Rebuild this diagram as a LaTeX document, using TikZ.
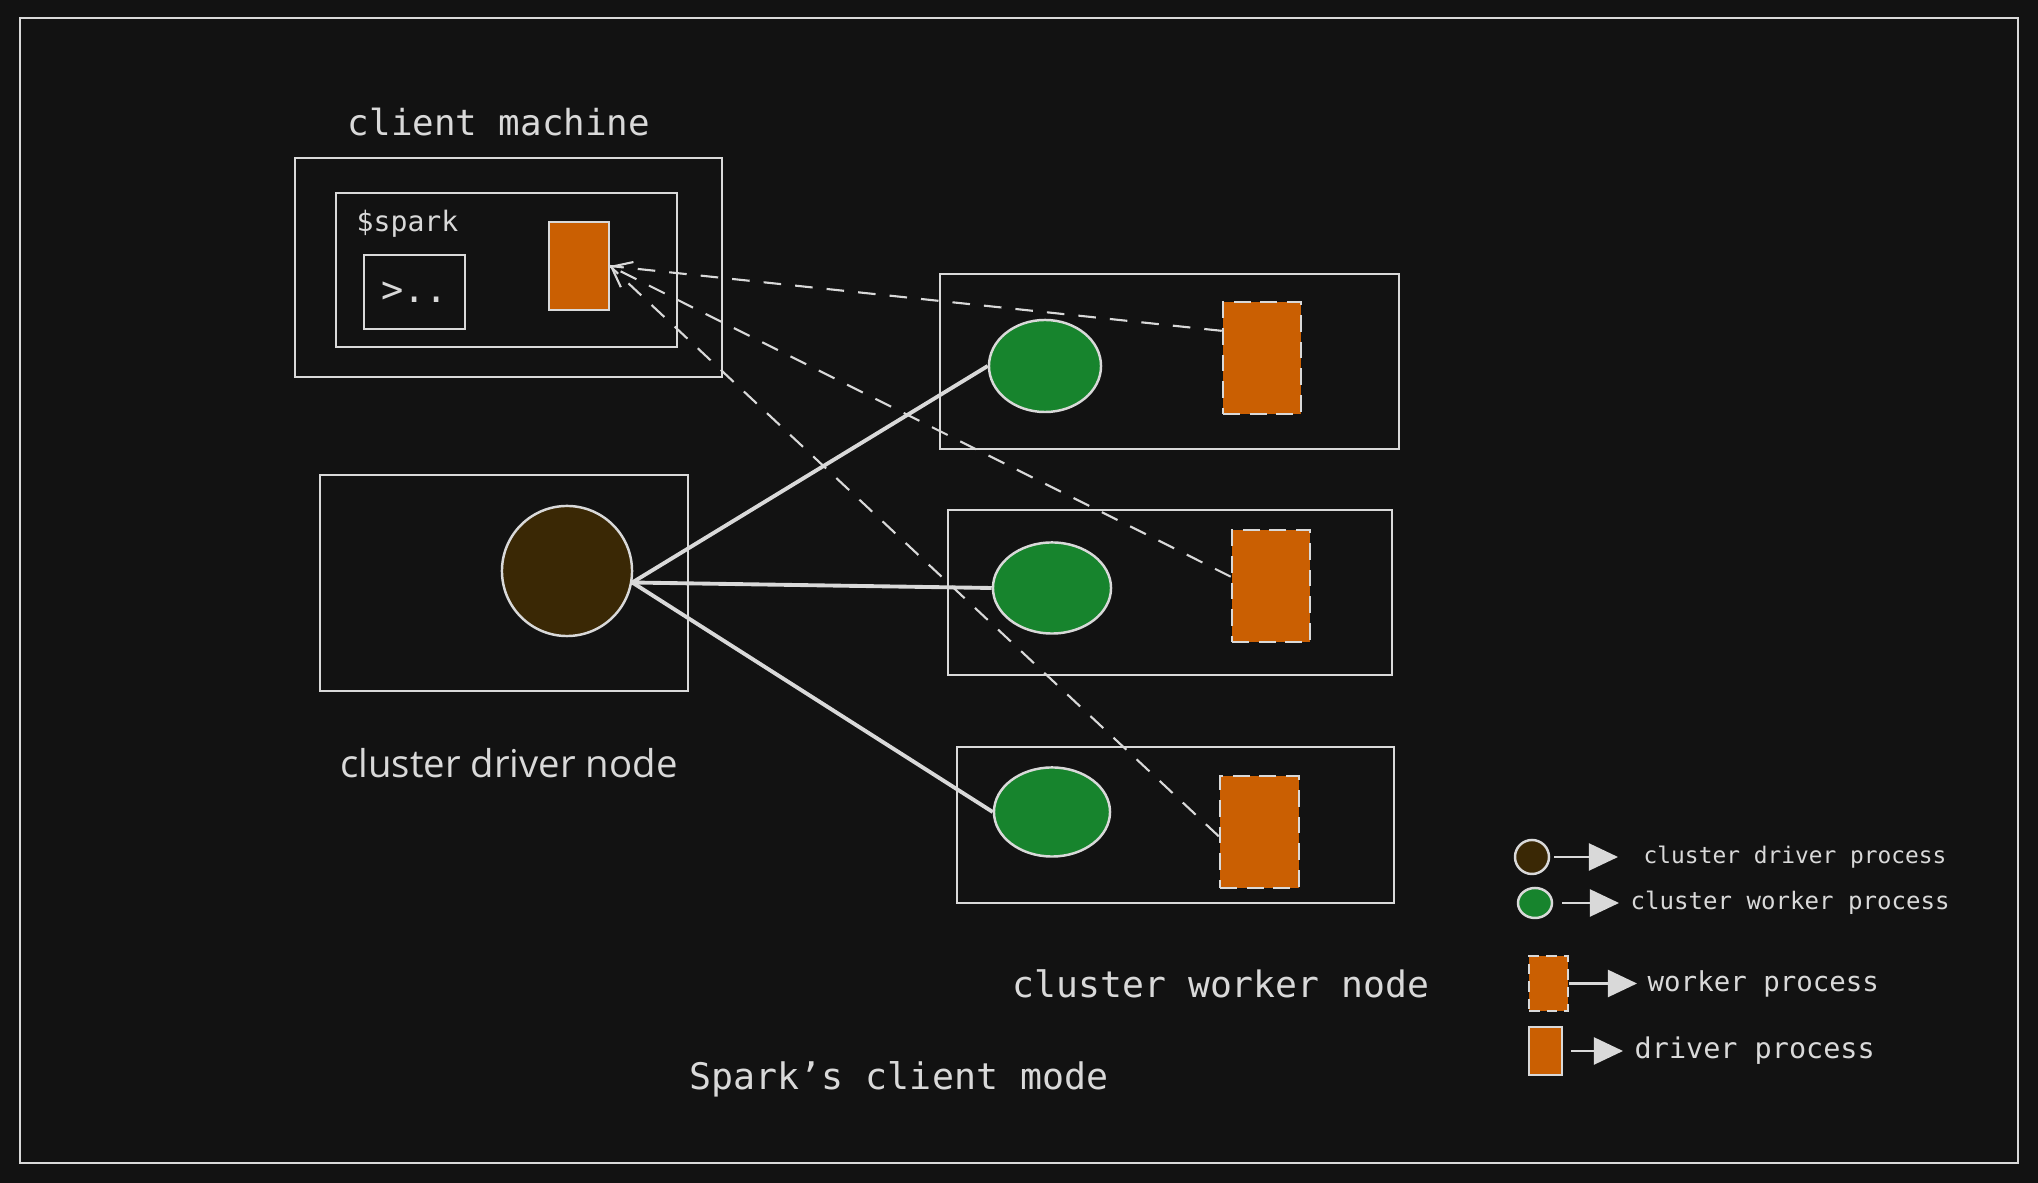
\documentclass[tikz,border=0pt]{standalone}
\usepackage{fontspec}
\setmonofont{DejaVu Sans Mono}
\setsansfont{Open Sans}
\usetikzlibrary{arrows.meta,shapes.geometric}
\definecolor{bg}{HTML}{121212}
\definecolor{ink}{HTML}{D9D9D9}
\definecolor{sparkorange}{HTML}{CA5F02}
\definecolor{drvbrown}{HTML}{3A2805}
\definecolor{wrkgreen}{HTML}{17842D}
\tikzset{box/.style={rectangle,draw=ink,line width=0.6pt,inner sep=0pt},
proc/.style={rectangle,fill=sparkorange,draw=ink,line width=0.5pt,inner sep=0pt},
wproc/.style={proc,line width=0.7pt,dash pattern=on 4.8pt off 2.8pt},
drv/.style={circle,fill=drvbrown,draw=ink,line width=0.7pt,inner sep=0pt},
wrk/.style={ellipse,fill=wrkgreen,draw=ink,line width=0.7pt,inner sep=0pt},
mono/.style={text=ink,inner sep=0pt,font=\ttfamily\fontsize{#1}{#1}\selectfont},
mono/.default=10.2,
link/.style={draw=ink,line width=1.1pt},
rpc/.style={draw=ink,line width=0.6pt,dash pattern=on 5pt off 4pt},
key/.style={draw=ink,line width=0.6pt,-{Triangle[length=0.29cm,width=0.27cm]}}}
\begin{document}
\begin{tikzpicture}[x=0.01cm,y=-0.01cm]
  \fill[bg] (0,0) rectangle (2038,1183);
  \useasboundingbox (0,0) rectangle (2038,1183);
  \draw[ink,line width=0.6pt] (20,18) rectangle (2018,1163);
  % client machine
  \node (cmlabel) [mono] at (499,122) {client machine};
  \node (cm) [box,minimum width=4.27cm,minimum height=2.19cm] at (508.5,267.5) {};
  \node (shell) [box,minimum width=3.41cm,minimum height=1.54cm] at (506.5,270) {};
  \node (prompt) [mono=8] [anchor=base west] at (356,232) {\$spark};
  \node (term) [box,text=ink,font=\ttfamily\fontsize{10.5}{10.5}\selectfont,
    minimum width=1.01cm,minimum height=0.74cm] at (414.5,292) {>..};
  \node (dp) [proc,minimum width=0.6cm,minimum height=0.88cm] at (579,266) {};
  % cluster driver node
  \node (dn) [box,minimum width=3.68cm,minimum height=2.16cm] at (504,583) {};
  \node (dc) [drv,minimum size=1.3cm] at (567,571) {};
  \node (dnlabel) [text=ink,inner sep=0pt,font=\sffamily\fontsize{10.9}{10.9}\selectfont]
    at (509,763) {cluster driver node};
  % cluster worker nodes
  \node (w1) [box,minimum width=4.59cm,minimum height=1.75cm] at (1169.5,361.5) {};
  \node (w2) [box,minimum width=4.44cm,minimum height=1.65cm] at (1170,592.5) {};
  \node (w3) [box,minimum width=4.37cm,minimum height=1.56cm] at (1175.5,825) {};
  \node (g1) [wrk,minimum width=1.12cm,minimum height=0.92cm] at (1045,366) {};
  \node (g2) [wrk,minimum width=1.18cm,minimum height=0.91cm] at (1052,588) {};
  \node (g3) [wrk,minimum width=1.16cm,minimum height=0.89cm] at (1052,812) {};
  \node (o1) [wproc,minimum width=0.78cm,minimum height=1.12cm] at (1262,358) {};
  \node (o2) [wproc,minimum width=0.78cm,minimum height=1.12cm] at (1271,586) {};
  \node (o3) [wproc,minimum width=0.79cm,minimum height=1.12cm] at (1259.5,832) {};
  \node (wnlabel) [mono=10.35] at (1221,984) {cluster worker node};
  \node (title) [mono=10.4] at (899,1079) {Spark’s client mode};
  \draw [link] (dc.-10) -- (g1.west);
  \draw [link] (dc.-10) -- (g2.west);
  \draw [link] (dc.-10) -- (g3.west);
  \draw [rpc] (o1.146) -- (dp.east);
  \draw [rpc,-{Straight Barb[length=5pt,width=8pt]}] (o2.167) -- (dp.east);
  \draw [rpc] (o3.186) -- (dp.east);
  % legend
  \node (lc1) [drv,minimum size=0.34cm] at (1532,857) {};
  \node (lc2) [wrk,minimum width=0.34cm,minimum height=0.3cm] at (1535,903) {};
  \node (lr3) [wproc,line width=0.6pt,dash pattern=on 3pt off 2pt,
    minimum width=0.39cm,minimum height=0.55cm] at (1548.5,983.5) {};
  \node (lr4) [proc,minimum width=0.33cm,minimum height=0.48cm] at (1545.5,1051) {};
  \node (lt1) [mono=6.5,anchor=west] at (1643,857) {cluster driver process};
  \node (lt2) [mono=6.85,anchor=west] at (1630,903) {cluster worker process};
  \node (lt3) [mono=7.8,anchor=west] at (1647,983.5) {worker process};
  \node (lt4) [mono=8.1,anchor=west] at (1634,1051) {driver process};
  \draw [key,shorten <=0.04cm,shorten >=0.25cm] (lc1) -- (lt1.west);
  \draw [key,shorten <=0.09cm,shorten >=0.11cm] (lc2) -- (lt2.west);
  \draw [key,shorten >=0.1cm] (lr3) -- (lt3.west);
  \draw [key,shorten <=0.08cm,shorten >=0.11cm] (lr4) -- (lt4.west);
\end{tikzpicture}
\end{document}
